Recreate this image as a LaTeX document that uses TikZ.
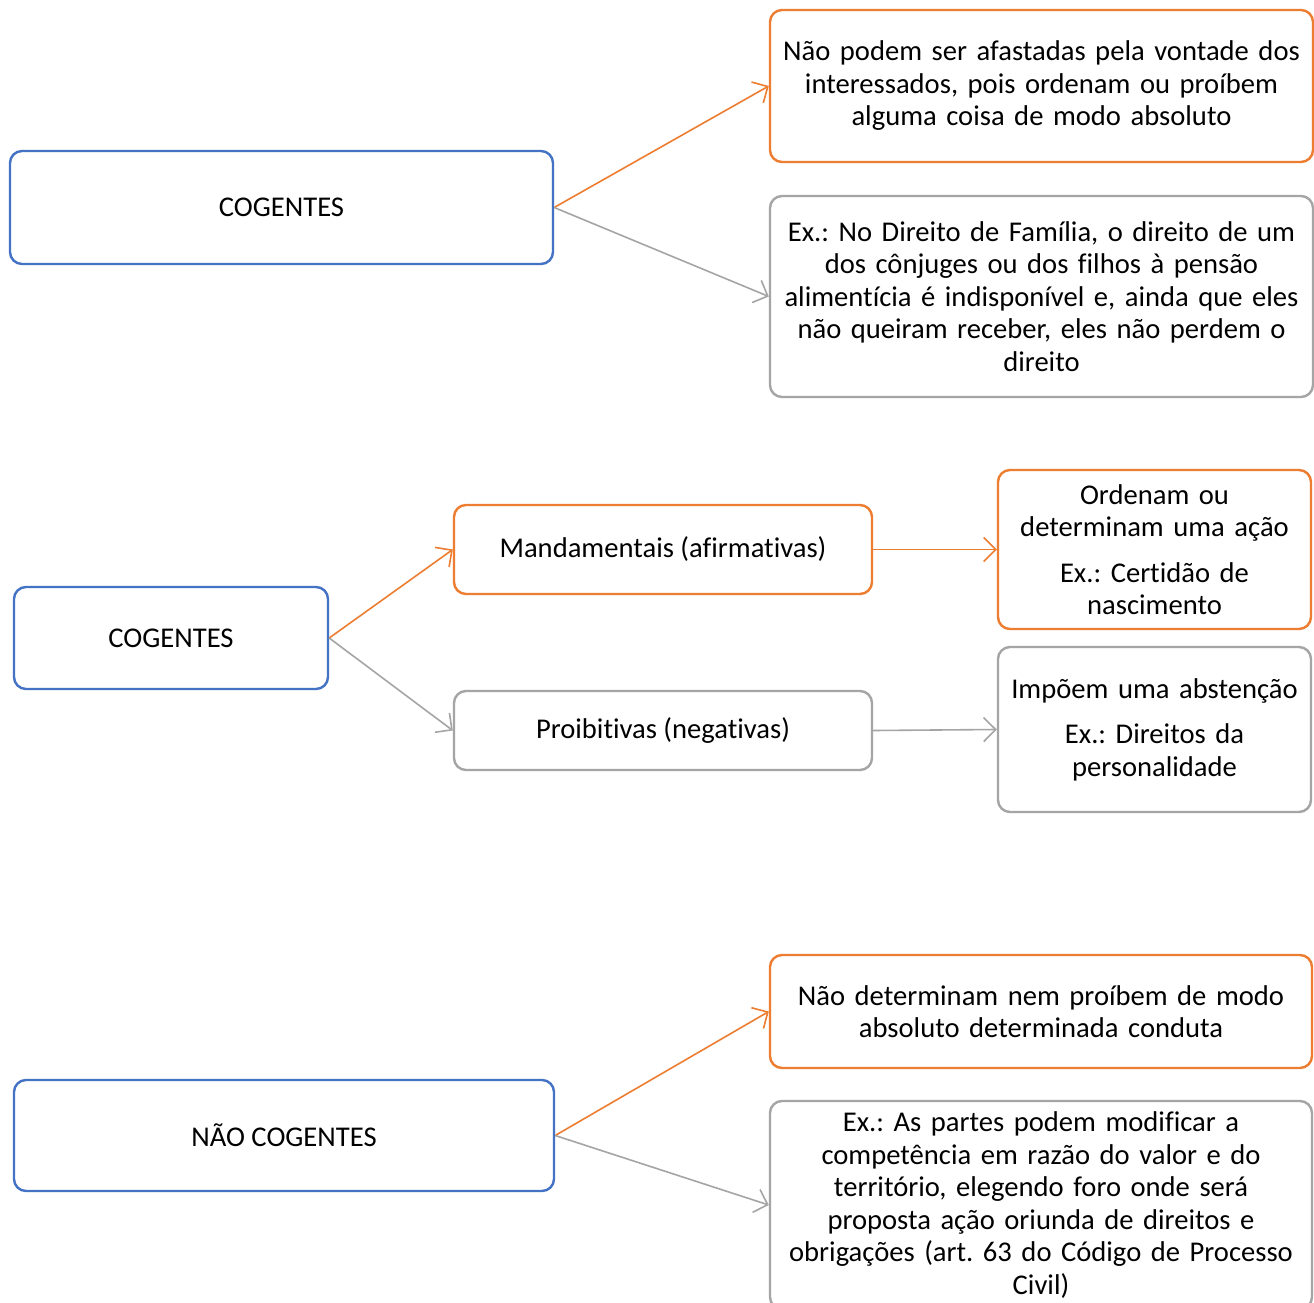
\documentclass[tikz,border=0pt]{standalone}
\usepackage{fontspec}
\setmainfont{Carlito}[Ligatures=NoCommon]
\usetikzlibrary{arrows.meta}
\frenchspacing
\definecolor{cblue}{HTML}{4472C4}
\definecolor{corange}{HTML}{ED7D31}
\definecolor{cgray}{HTML}{A5A5A5}
\newcommand{\myboxfont}{\fontsize{28.6}{32.5}\selectfont}
\tikzset{
  box/.style={draw, rounded corners=12pt, line width=2.4pt, fill=white, align=center,
    font=\myboxfont, inner sep=0pt},
  bluebox/.style={box, draw=cblue},
  orbox/.style={box, draw=corange},
  grbox/.style={box, draw=cgray},
  conn/.style={line width=1.6pt, -{Straight Barb[length=12pt,width=24pt,line width=1.6pt]}},
  orconn/.style={conn, draw=corange},
  grconn/.style={conn, draw=cgray},
}
\begin{document}
\begin{tikzpicture}[x=1pt,y=-1pt]
\useasboundingbox (0,0) rectangle (1314,1303);
\clip (0,0) rectangle (1314,1303);
\fill[white] (0,0) rectangle (1314,1303);
% --- section 1
\node[bluebox, minimum width=543pt, minimum height=113pt] (c1) at (281.5,207.5) {COGENTES};
\node[orbox, minimum width=543pt, minimum height=152pt, text width=535pt] (o1) at (1041.5,86) {Não podem ser afastadas pela vontade dos\\interessados, pois ordenam ou proíbem\\alguma coisa de modo absoluto};
\node[grbox, minimum width=543pt, minimum height=201pt, text width=535pt] (g1) at (1041.5,296.5) {Ex.: No Direito de Família, o direito de um\\dos cônjuges ou dos filhos à pensão\\alimentícia é indisponível e, ainda que eles\\não queiram receber, eles não perdem o\\direito};
\draw[orconn] (c1.east) -- (o1.west);
\draw[grconn] (c1.east) -- (g1.west);
% --- section 2
\node[bluebox, minimum width=314pt, minimum height=102pt] (c2) at (171,638) {COGENTES};
\node[orbox, minimum width=418pt, minimum height=89pt] (m) at (663,549.5) {Mandamentais (afirmativas)};
\node[grbox, minimum width=418pt, minimum height=79pt] (p) at (663,730.5) {Proibitivas (negativas)};
\node[orbox, minimum width=313pt, minimum height=159pt, text width=308pt] (o2) at (1154.5,549.5) {Ordenam ou\\determinam uma ação\\[13pt]Ex.: Certidão de\\nascimento};
\node[grbox, minimum width=313pt, minimum height=165pt, text width=308pt] (g2) at (1154.5,729.5) {Impõem uma abstenção\\[13pt]Ex.: Direitos da\\personalidade};
\draw[orconn] (c2.east) -- (m.west);
\draw[grconn] (c2.east) -- (p.west);
\draw[orconn] (m.east) -- (o2.west);
\draw[grconn] (p.east) -- (g2.west);
% --- section 3
\node[bluebox, minimum width=540pt, minimum height=111pt] (c3) at (284,1135.5) {NÃO COGENTES};
\node[orbox, minimum width=542pt, minimum height=113pt, text width=535pt] (o3) at (1041,1011.5) {Não determinam nem proíbem de modo\\absoluto determinada conduta};
\node[grbox, minimum width=542pt, minimum height=208pt, text width=535pt] (g3) at (1041,1205) {Ex.: As partes podem modificar a\\competência em razão do valor e do\\território, elegendo foro onde será\\proposta ação oriunda de direitos e\\obrigações (art. 63 do Código de Processo\\Civil)};
\draw[orconn] (c3.east) -- (o3.west);
\draw[grconn] (c3.east) -- (g3.west);
\end{tikzpicture}
\end{document}
